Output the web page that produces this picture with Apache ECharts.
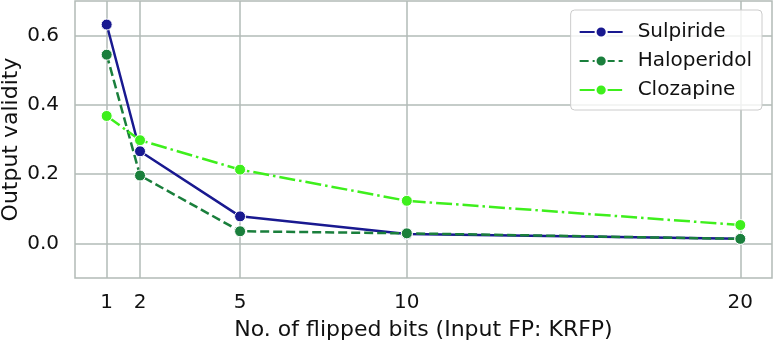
<!DOCTYPE html>
<html>
<head>
<meta charset="utf-8">
<script src="https://cdn.jsdelivr.net/npm/echarts@6/dist/echarts.min.js"></script>
<style>
  html, body { margin: 0; padding: 0; background: #fff; }
  #chart { width: 773px; height: 345px; }
</style>
</head>
<body>
<div id="chart"></div>
<script>
  const flippedBits = [1, 2, 5, 10, 20]
  const sulpiride = [0.632, 0.266, 0.078, 0.027, 0.013]
  const haloperidol = [0.545, 0.196, 0.035, 0.029, 0.013]
  const clozapine = [0.368, 0.298, 0.213, 0.123, 0.053]
  const yTicks = [0, 0.2, 0.4, 0.6]

  const GRID = '#b2bbb7'
  const FONT = 'DejaVu Sans'

  function pairs(vals) {
    return flippedBits.map((x, i) => [x, vals[i]])
  }

  function makeSeries(name, vals, color, dash) {
    return {
      name: name,
      type: 'line',
      data: pairs(vals),
      symbol: 'circle',
      symbolSize: 11,
      showSymbol: true,
      itemStyle: { color: color, borderColor: '#fff', borderWidth: 1 },
      lineStyle: { color: color, width: 2.5, type: dash },
      emphasis: { disabled: true },
      animation: false
    }
  }

  const myChart = echarts.init(document.getElementById('chart'))
  const option = {
    backgroundColor: '#fff',
    textStyle: { fontFamily: FONT },
    grid: {
      left: 75, right: 1, top: 1, bottom: 67,
      outerBoundsMode: 'none',
      containLabel: false,
      show: true, borderColor: GRID, borderWidth: 1.5
    },
    legend: {
      right: 11, top: 10,
      orient: 'vertical',
      itemWidth: 43, itemHeight: 14, itemGap: 9,
      padding: [12, 10, 10, 8],
      backgroundColor: 'rgba(255,255,255,0.8)',
      borderColor: '#cccccc', borderWidth: 1, borderRadius: 4,
      textStyle: { fontSize: 20, color: '#111', fontFamily: FONT, padding: [0, 0, 0, 10] },
      data: ['Sulpiride', 'Haloperidol', 'Clozapine']
    },
    xAxis: {
      type: 'value',
      min: 0.05, max: 20.95,
      name: 'No. of flipped bits (Input FP: KRFP)',
      nameLocation: 'middle',
      nameGap: 41,
      nameMoveOverlap: false,
      nameTextStyle: { fontSize: 22, color: '#111', fontFamily: FONT },
      axisLine: { show: false },
      axisTick: { show: false, customValues: flippedBits },
      axisLabel: { customValues: flippedBits, fontSize: 20, color: '#111', margin: 15, fontFamily: FONT },
      splitLine: { show: true, lineStyle: { color: GRID, width: 1.5 } }
    },
    yAxis: {
      type: 'value',
      min: -0.1, max: 0.7,
      name: 'Output validity',
      nameLocation: 'middle',
      nameGap: 53,
      nameMoveOverlap: false,
      nameTextStyle: { fontSize: 22, color: '#111', fontFamily: FONT },
      axisLine: { show: false },
      axisTick: { show: false, customValues: yTicks },
      axisLabel: {
        customValues: yTicks, fontSize: 20, color: '#111', margin: 16, fontFamily: FONT,
        padding: [4, 0, 0, 0],
        formatter: v => v.toFixed(1)
      },
      splitLine: { show: true, lineStyle: { color: GRID, width: 1.5 } }
    },
    series: [
      makeSeries('Sulpiride', sulpiride, '#191990', 'solid'),
      makeSeries('Haloperidol', haloperidol, '#1a7f3c', [9, 4]),
      makeSeries('Clozapine', clozapine, '#3eef1c', [16, 4, 2.5, 4])
    ]
  }
  myChart.setOption(option)
</script>
</body>
</html>
